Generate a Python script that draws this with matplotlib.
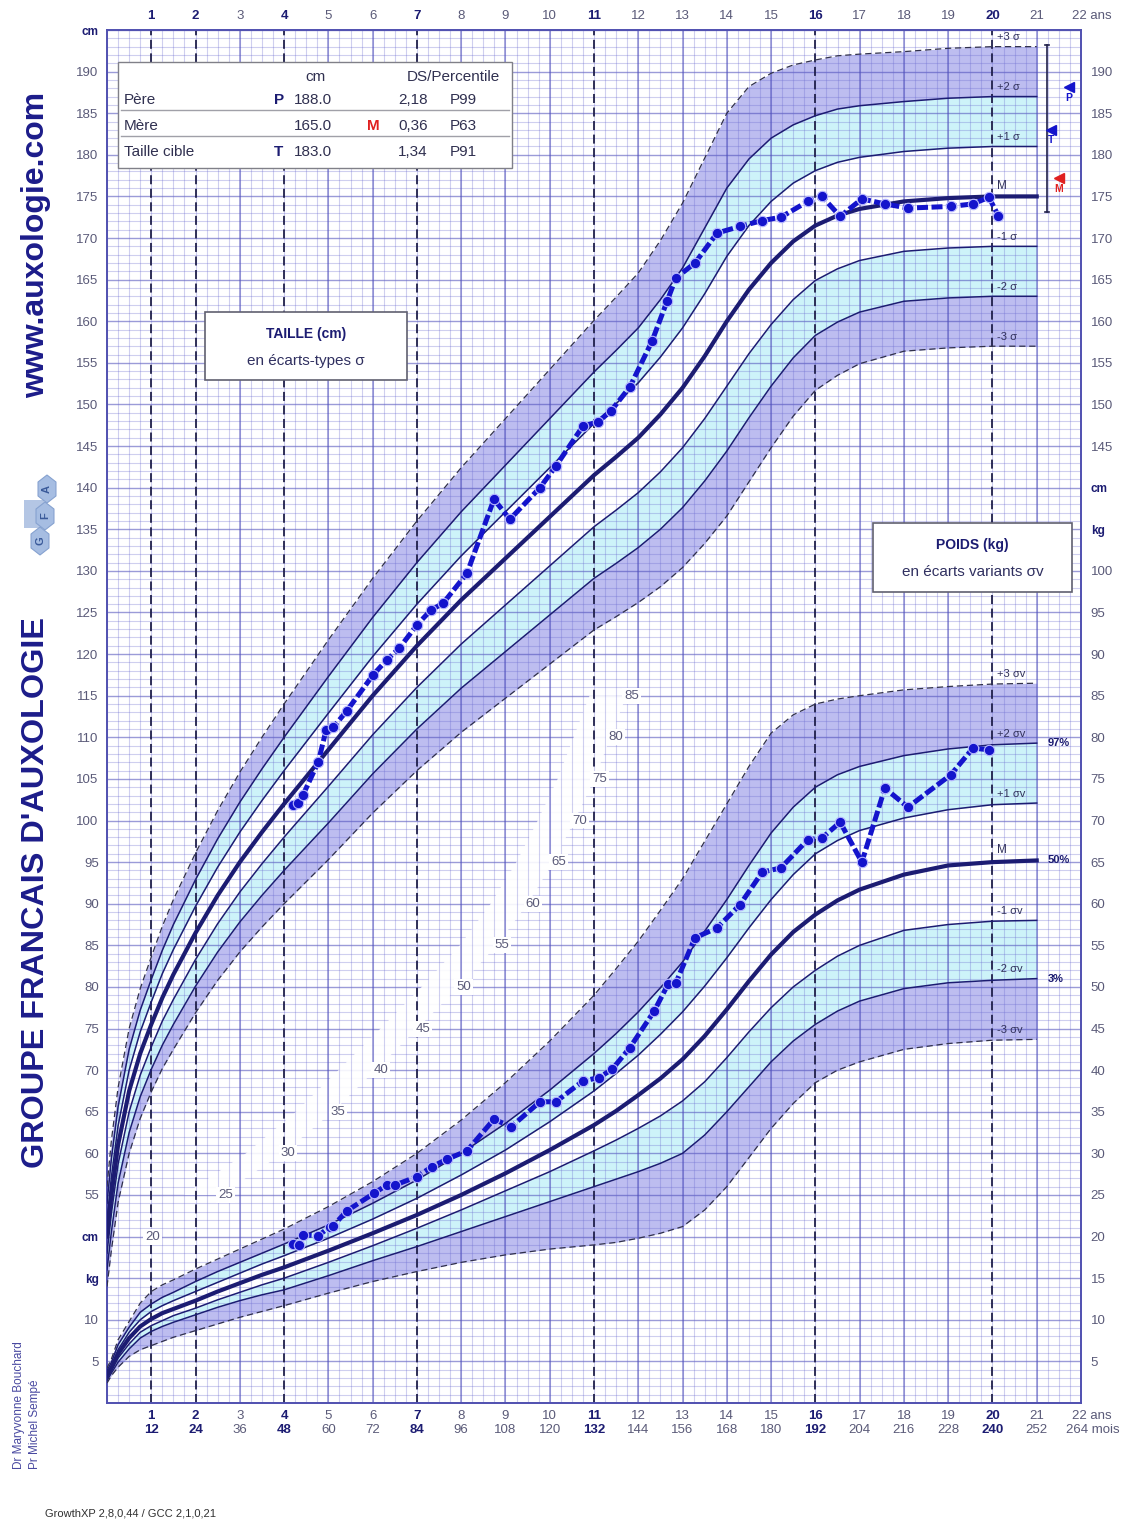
import numpy as np
import matplotlib.pyplot as plt
from matplotlib.patches import Rectangle, RegularPolygon, Polygon

plt.rcParams['font.family'] = ['Liberation Sans', 'DejaVu Sans']

W_PX, H_PX = 1126, 1521

# reference ages (years)
AGES = [0, 0.1, 0.25, 0.5, 0.75, 1, 1.25, 1.5, 2, 2.5, 3, 3.5, 4, 5, 6, 7, 8, 9, 10, 11, 11.5, 12,
        12.5, 13, 13.5, 14, 14.5, 15, 15.5, 16, 16.5, 17, 18, 19, 20, 21]

# height reference curves (cm), M and +/- 1, 2, 3 sigma
H_M = [50, 55, 61, 67.5, 72, 75.5, 78.7, 81.5, 86.5, 91, 95, 98.6, 102, 108.5, 115, 121, 126.5, 131.5, 136.5, 141.5, 143.7, 146,
       148.8, 152, 155.8, 160, 163.8, 167, 169.6, 171.5, 172.7, 173.5, 174.4, 174.8, 175, 175]
H_P1 = [52, 57.2, 63.3, 70, 74.6, 78.2, 81.6, 84.5, 89.7, 94.4, 98.6, 102.4, 106, 112.9, 119.7, 126, 131.8, 137.1, 142.4, 147.7, 150.1, 152.6,
        155.7, 159.2, 163.3, 167.8, 171.5, 174.4, 176.6, 178.1, 179.1, 179.7, 180.4, 180.8, 181, 181]
H_P2 = [54, 59.4, 65.6, 72.5, 77.2, 80.9, 84.4, 87.5, 92.9, 97.8, 102.2, 106.2, 110, 117.3, 124.4, 131, 137.1, 142.7, 148.3, 153.9, 156.5, 159.2,
        162.6, 166.4, 171.2, 176.0, 179.5, 182.0, 183.6, 184.7, 185.5, 185.9, 186.4, 186.8, 187, 187]
H_P3 = [56, 61.6, 67.9, 75, 79.8, 83.6, 87.3, 90.5, 96.1, 101.2, 105.8, 110, 114, 121.7, 129.1, 136, 142.4, 148.3, 154.2, 160.1, 162.9, 165.8,
        169.7, 174.2, 179.6, 185.0, 188.2, 189.8, 190.8, 191.4, 191.9, 192.1, 192.4, 192.8, 193, 193]
H_M1 = [48, 52.8, 58.7, 65, 69.4, 72.8, 75.9, 78.5, 83.3, 87.6, 91.4, 94.8, 98, 104.1, 110.3, 116, 121.2, 125.9, 130.6, 135.3, 137.3, 139.4,
        141.9, 144.8, 148.3, 152.2, 156.1, 159.6, 162.6, 164.9, 166.3, 167.3, 168.4, 168.8, 169, 169]
H_M2 = [46, 50.6, 56.4, 62.5, 66.8, 70.1, 73.0, 75.5, 80.1, 84.2, 87.8, 91.0, 94, 99.7, 105.6, 111, 115.9, 120.3, 124.7, 129.1, 130.9, 132.8,
        135.0, 137.6, 140.8, 144.4, 148.4, 152.2, 155.6, 158.3, 159.9, 161.1, 162.4, 162.8, 163, 163]
H_M3 = [44, 48.4, 54.1, 60, 64.2, 67.4, 70.2, 72.5, 76.9, 80.8, 84.2, 87.2, 90, 95.3, 100.9, 106, 110.6, 114.7, 118.8, 122.9, 124.5, 126.2,
        128.1, 130.4, 133.3, 136.6, 140.7, 144.8, 148.6, 151.7, 153.5, 154.9, 156.4, 156.8, 157, 157]

# weight reference curves (kg), M and +/- 1, 2, 3 sigma-v
W_M = [3.3, 4.2, 5.9, 7.8, 9.2, 10.1, 10.8, 11.3, 12.3, 13.4, 14.4, 15.4, 16.3, 18.3, 20.4, 22.6, 25.0, 27.6, 30.4, 33.4, 35.1, 37.0,
       39.0, 41.3, 44.1, 47.3, 50.7, 53.9, 56.6, 58.7, 60.4, 61.7, 63.5, 64.6, 65.0, 65.2]
W_P1 = [3.6, 4.5, 6.4, 8.5, 10.0, 11.0, 11.7, 12.3, 13.4, 14.5, 15.6, 16.7, 17.7, 19.8, 22.1, 24.6, 27.4, 30.4, 33.8, 37.5, 39.6, 41.8,
        44.3, 47.0, 50.1, 53.5, 57.1, 60.5, 63.5, 66.0, 67.6, 68.8, 70.3, 71.3, 71.9, 72.1]
W_P2 = [3.9, 4.9, 7.0, 9.1, 10.9, 11.9, 12.7, 13.3, 14.6, 15.8, 16.9, 18.0, 19.1, 21.4, 24.0, 26.8, 30.0, 33.6, 37.6, 42.0, 44.4, 47.0,
        49.9, 53.0, 56.7, 60.5, 64.6, 68.5, 71.6, 74.0, 75.5, 76.5, 77.8, 78.6, 79.1, 79.3]
W_P3 = [4.2, 5.3, 7.6, 9.8, 12.0, 13.4, 14.2, 14.8, 16.1, 17.3, 18.5, 19.7, 20.9, 23.6, 26.6, 30.0, 34.0, 38.5, 43.5, 49.0, 52.2, 55.5,
        59.2, 63.0, 67.5, 72.0, 76.5, 80.5, 82.7, 84.0, 84.6, 85.0, 85.7, 86.1, 86.4, 86.5]
W_M1 = [3.0, 3.9, 5.4, 7.1, 8.5, 9.3, 9.9, 10.5, 11.4, 12.4, 13.3, 14.2, 15.0, 16.9, 18.9, 21.0, 23.2, 25.5, 27.8, 30.3, 31.6, 33.0,
        34.5, 36.3, 38.6, 41.5, 44.6, 47.5, 50.0, 52.0, 53.7, 55.0, 56.8, 57.5, 57.9, 58.0]
W_M2 = [2.7, 3.6, 4.9, 6.5, 7.8, 8.6, 9.2, 9.7, 10.6, 11.5, 12.3, 13.0, 13.6, 15.3, 17.1, 18.8, 20.6, 22.4, 24.2, 26.0, 26.9, 27.8,
        28.8, 30.0, 32.2, 35.0, 38.0, 41.0, 43.5, 45.5, 47.1, 48.3, 49.8, 50.5, 50.8, 51.0]
W_M3 = [2.4, 3.3, 4.3, 5.6, 6.4, 6.9, 7.4, 7.9, 8.7, 9.5, 10.3, 11.0, 11.7, 13.2, 14.6, 15.8, 16.9, 17.8, 18.5, 19.0, 19.3, 19.8,
        20.4, 21.2, 23.2, 26.0, 29.5, 33.0, 36.0, 38.5, 40.0, 41.0, 42.5, 43.2, 43.6, 43.7]

# child measurements
CHILD_H_AGE = [4.20, 4.31, 4.43, 4.77, 4.95, 5.11, 5.42, 6.01, 6.32, 6.60, 7.00, 7.32, 7.59, 8.13, 8.74, 9.10,
               9.78, 10.14, 10.75, 11.09, 11.38, 11.81, 12.31, 12.65, 12.85, 13.28, 13.78, 14.30, 14.80, 15.22,
               15.83, 16.15, 16.56, 17.05, 17.57, 18.09, 19.06, 19.56, 19.92, 20.13]
CHILD_H = [101.9, 102.1, 103.1, 107.0, 110.9, 111.2, 113.2, 117.5, 119.3, 120.7, 123.5, 125.3, 126.1, 129.7, 138.6, 136.2,
           140.0, 142.6, 147.4, 147.9, 149.2, 152.1, 157.6, 162.4, 165.2, 167.0, 170.6, 171.4, 172.1, 172.5,
           174.4, 175.0, 172.6, 174.7, 174.1, 173.6, 173.8, 174.1, 174.9, 172.7]
CHILD_W_AGE = [4.20, 4.34, 4.43, 4.77, 5.04, 5.11, 5.42, 6.03, 6.32, 6.51, 7.00, 7.34, 7.68, 8.13, 8.74, 9.13,
               9.78, 10.14, 10.75, 11.11, 11.41, 11.81, 12.36, 12.67, 12.85, 13.28, 13.78, 14.30, 14.80, 15.22,
               15.83, 16.15, 16.56, 17.05, 17.57, 18.09, 19.06, 19.56, 19.92]
CHILD_W = [19.1, 19.0, 20.2, 20.1, 21.2, 21.3, 23.1, 25.2, 26.2, 26.2, 27.2, 28.4, 29.3, 30.3, 34.1, 33.2,
           36.2, 36.2, 38.7, 39.1, 40.1, 42.7, 47.1, 50.3, 50.5, 55.9, 57.1, 59.9, 63.8, 64.3,
           67.7, 67.9, 69.8, 65.0, 73.9, 71.6, 75.5, 78.7, 78.5]

# parents / target height (cm)
PARENT_NAMES = ['Père', 'Mère', 'Taille cible']
PARENT_CM = ['188.0', '165.0', '183.0']
PARENT_DS = ['2,18', '0,36', '1,34']
PARENT_PCT = ['P99', 'P63', 'P91']

# weight values written along the diagonal scale
DIAG_KG = [20, 25, 30, 35, 40, 45, 50, 55, 60, 65, 70, 75, 80, 85]
DIAG_AGE = [1.03, 2.68, 4.09, 5.22, 6.18, 7.13, 8.06, 8.92, 9.62, 10.2, 10.68, 11.13, 11.49, 11.85]

SPECIAL_YEARS = [1, 2, 4, 7, 11, 16, 20]
W_SHIFT = 30  # the kg scale sits 30 units below the cm scale

NAVY = '#1c1c72'
BLUE = '#1414cc'
LAVENDER = '#bdbdf0'
CYAN = '#cdf3f9'
GRAYTXT = '#5a5a78'


def fx(px):
    return px / W_PX


def fy(py):
    return 1 - py / H_PX


fig = plt.figure(figsize=(W_PX / 100, H_PX / 100), dpi=100)
ax = fig.add_axes([fx(107), fy(1403), (1081 - 107) / W_PX, (1403 - 30) / H_PX])
ax.set_xlim(0, 22)
ax.set_ylim(30, 195)

# grid: horizontal lines, then the white diagonal gap, then vertical lines
fine_v = np.arange(30, 196)
ax.hlines(fine_v[fine_v % 5 != 0], 0, 22, color='#6a6ad0', alpha=0.32, lw=0.8, zorder=2)
ax.hlines(fine_v[fine_v % 5 == 0], 0, 22, color='#4a4ab8', alpha=0.55, lw=1.0, zorder=2)

diag_v = np.array(DIAG_KG[1:]) + W_SHIFT
diag_a = np.array(DIAG_AGE[1:])
gap = list(zip(diag_a - 0.95, diag_v)) + list(zip(diag_a[::-1] - 0.12, diag_v[::-1]))
ax.add_patch(Polygon(gap, closed=True, fc='white', ec='none', alpha=0.9, zorder=2.2))

quarters = np.arange(0, 22.01, 0.25)
ax.vlines(quarters, 30, 195, color='#6a6ad0', alpha=0.32, lw=0.8, zorder=2.4)
years = [y for y in range(1, 22) if y not in SPECIAL_YEARS]
ax.vlines(years, 30, 195, color='#4a4ab8', alpha=0.6, lw=1.1, zorder=2.4)
ax.vlines(SPECIAL_YEARS, 30, 195, color='#20204a', lw=1.3, linestyles=(0, (5, 2.5)), zorder=2.5)

# bands
ax.fill_between(AGES, H_P2, H_P3, color=LAVENDER, lw=0, zorder=1)
ax.fill_between(AGES, H_P1, H_P2, color=CYAN, lw=0, zorder=1)
ax.fill_between(AGES, H_M2, H_M1, color=CYAN, lw=0, zorder=1)
ax.fill_between(AGES, H_M3, H_M2, color=LAVENDER, lw=0, zorder=1)
w = lambda s: np.array(s) + W_SHIFT
ax.fill_between(AGES, w(W_P2), w(W_P3), color=LAVENDER, lw=0, zorder=1)
ax.fill_between(AGES, w(W_P1), w(W_P2), color=CYAN, lw=0, zorder=1)
ax.fill_between(AGES, w(W_M2), w(W_M1), color=CYAN, lw=0, zorder=1)
ax.fill_between(AGES, w(W_M3), w(W_M2), color=LAVENDER, lw=0, zorder=1)

# reference curves
for curves, shift, sig in [((H_P3, H_P2, H_P1, H_M, H_M1, H_M2, H_M3), 0, 'σ'),
                           ((W_P3, W_P2, W_P1, W_M, W_M1, W_M2, W_M3), W_SHIFT, 'σv')]:
    names = ['+3 ' + sig, '+2 ' + sig, '+1 ' + sig, 'M', '-1 ' + sig, '-2 ' + sig, '-3 ' + sig]
    for c, name in zip(curves, names):
        y = np.array(c) + shift
        if name.startswith('+3') or name.startswith('-3'):
            ax.plot(AGES, y, color='#30304a', lw=0.9, dashes=(5, 3), zorder=4)
        elif name == 'M':
            ax.plot(AGES, y, color=NAVY, lw=3.0, zorder=4, solid_joinstyle='round')
        else:
            ax.plot(AGES, y, color=NAVY, lw=1.1, zorder=4)
        ax.text(20.1, y[-1] + 0.5, name, fontsize=8.5 if name == 'M' else 8, color='#30305a',
                ha='left', va='bottom', zorder=5)

for val, txt in [(W_P2[-1], '97%'), (W_M[-1], '50%'), (W_M2[-1], '3%')]:
    ax.text(21.25, val + W_SHIFT, txt, fontsize=8, weight='bold', color=NAVY, ha='left', va='center', zorder=5)

# diagonal kg scale labels
for a, kg in zip(DIAG_AGE, DIAG_KG):
    ax.text(a, kg + W_SHIFT, str(kg), fontsize=9.5, color=GRAYTXT, ha='center', va='center', zorder=3,
            bbox=dict(boxstyle='square,pad=0.15', fc='white', ec='none'))

# child data
for xs, ys in [(CHILD_H_AGE, CHILD_H), (CHILD_W_AGE, np.array(CHILD_W) + W_SHIFT)]:
    ax.plot(xs, ys, color=BLUE, lw=3.6, dashes=(2.2, 0.7), marker='o', ms=7.5,
            mfc=BLUE, mec='#b8b8ff', mew=0.8, zorder=6)

# parental markers at the right
ax.plot([21.23, 21.23], [173.1, 193.2], color='#20204a', lw=1.2, zorder=5)
ax.plot([21.18, 21.28], [193.2, 193.2], color='#20204a', lw=1.2, zorder=5)
ax.plot([21.18, 21.28], [173.1, 173.1], color='#20204a', lw=1.2, zorder=5)
ax.plot(21.33, 183, marker='<', ms=7, color=BLUE, zorder=6)
ax.text(21.33, 181.8, 'T', fontsize=7.5, weight='bold', color=BLUE, ha='center', va='center')
ax.plot(21.72, 188.1, marker='<', ms=7, color=BLUE, zorder=6)
ax.text(21.72, 186.8, 'P', fontsize=7.5, weight='bold', color=BLUE, ha='center', va='center')
ax.plot(21.5, 177.2, marker='<', ms=7, color='#e02020', zorder=6)
ax.text(21.5, 175.9, 'M', fontsize=7.5, weight='bold', color='#e02020', ha='center', va='center')

# axes frame and tick labels
for s in ax.spines.values():
    s.set_color('#5050b0')
    s.set_linewidth(1.4)
ax.set_xticks([])
left_ticks = [35, 40, 45, 50] + list(range(55, 191, 5)) + [195]
left_labels = ['5', '10', 'kg', 'cm'] + [str(v) for v in range(55, 191, 5)] + ['cm']
ax.set_yticks(left_ticks)
ax.set_yticklabels(left_labels)
ax.tick_params(axis='y', length=0, pad=6, labelsize=9.5, labelcolor=GRAYTXT)
ax2 = ax.twinx()
ax2.set_ylim(30, 195)
right_ticks = list(range(35, 131, 5)) + [135, 140] + list(range(145, 191, 5))
right_labels = [str(v - W_SHIFT) for v in range(35, 131, 5)] + ['kg', 'cm'] + [str(v) for v in range(145, 191, 5)]
ax2.set_yticks(right_ticks)
ax2.set_yticklabels(right_labels)
ax2.tick_params(axis='y', length=0, pad=7, labelsize=9.5, labelcolor=GRAYTXT)
for s in ax2.spines.values():
    s.set_visible(False)
for lab in ax.get_yticklabels() + ax2.get_yticklabels():
    if lab.get_text() in ('cm', 'kg'):
        lab.set_fontweight('bold')
        lab.set_color(NAVY)
        lab.set_fontsize(8.5)

tr = ax.get_xaxis_transform()
for yr in range(1, 22):
    bold = yr in SPECIAL_YEARS
    kw = dict(fontsize=9.5, ha='center', va='center', transform=tr,
              weight='bold' if bold else 'normal', color=NAVY if bold else GRAYTXT)
    ax.text(yr, 1.0102, str(yr), **kw)
    ax.text(yr, -0.0095, str(yr), **kw)
    ax.text(yr, -0.0197, str(yr * 12), **kw)
ax.text(21.8, 1.0102, '22 ans', fontsize=9.5, ha='left', va='center', transform=tr, color=GRAYTXT)
ax.text(21.8, -0.0095, '22 ans', fontsize=9.5, ha='left', va='center', transform=tr, color=GRAYTXT)
ax.text(21.65, -0.0197, '264 mois', fontsize=9.5, ha='left', va='center', transform=tr, color=GRAYTXT)

# parents table
fig.patches.append(Rectangle((fx(118), fy(168)), fx(512) - fx(118), fy(62) - fy(168),
                             transform=fig.transFigure, fc='white', ec='#808088', lw=1, zorder=8))
for py in (110, 136):
    fig.lines.append(plt.Line2D([fx(121), fx(509)], [fy(py), fy(py)], transform=fig.transFigure,
                                color='#a0a0a8', lw=1, zorder=9))
fig.text(fx(315), fy(77), 'cm', fontsize=11, color='#303050', ha='center', va='center', zorder=10)
fig.text(fx(453), fy(77), 'DS/Percentile', fontsize=11, color='#303050', ha='center', va='center', zorder=10)
for i, py in enumerate([100, 126, 152]):
    fig.text(fx(124), fy(py), PARENT_NAMES[i], fontsize=11, color='#303050', va='center', zorder=10)
    fig.text(fx(294), fy(py), PARENT_CM[i], fontsize=11, color='#303050', va='center', zorder=10)
    fig.text(fx(398), fy(py), PARENT_DS[i], fontsize=11, color='#303050', va='center', zorder=10)
    fig.text(fx(450), fy(py), PARENT_PCT[i], fontsize=11, color='#303050', va='center', zorder=10)
fig.text(fx(279), fy(100), 'P', fontsize=11, weight='bold', color=NAVY, ha='center', va='center', zorder=10)
fig.text(fx(373), fy(126), 'M', fontsize=11, weight='bold', color='#e02020', ha='center', va='center', zorder=10)
fig.text(fx(279), fy(152), 'T', fontsize=11, weight='bold', color=NAVY, ha='center', va='center', zorder=10)

# title boxes
for (x0, y0, x1, y1), t1, t2 in [((205, 312, 407, 380), 'TAILLE (cm)', 'en écarts-types σ'),
                                  ((873, 523, 1072, 592), 'POIDS (kg)', 'en écarts variants σv')]:
    fig.patches.append(Rectangle((fx(x0), fy(y1)), fx(x1) - fx(x0), fy(y0) - fy(y1),
                                 transform=fig.transFigure, fc='white', ec='#606070', lw=1.2, zorder=8))
    xc = (x0 + x1) / 2
    fig.text(fx(xc), fy(y0 + 22), t1, fontsize=10, weight='bold', color=NAVY, ha='center', va='center', zorder=10)
    fig.text(fx(xc), fy(y0 + 49), t2, fontsize=11, color='#303060', ha='center', va='center', zorder=10)

# side texts
fig.text(fx(36), fy(245), 'www.auxologie.com', rotation=90, fontsize=23, weight='bold', color='#1c1c8a',
         ha='center', va='center')
fig.text(fx(36), fy(893), "GROUPE FRANCAIS D'AUXOLOGIE", rotation=90, fontsize=23.3, weight='bold',
         color='#1c1c8a', ha='center', va='center')
fig.text(fx(19), fy(1469), 'Dr Maryvonne Bouchard', rotation=90, fontsize=8.5, color='#4848a0',
         ha='center', va='bottom')
fig.text(fx(35), fy(1469), 'Pr Michel Sempé', rotation=90, fontsize=8.5, color='#4848a0',
         ha='center', va='bottom')
fig.text(fx(45), fy(1513), 'GrowthXP 2,8,0,44 / GCC 2,1,0,21', fontsize=8, color='#303030', va='center')

# small logo
fig.patches.append(Rectangle((fx(24), fy(528)), fx(20), fy(500) - fy(528), transform=fig.transFigure,
                             fc='#b4c6e4', ec='none'))
for (px, py, letter) in [(47, 489, 'A'), (45, 516, 'F'), (40, 541, 'G')]:
    fig.patches.append(RegularPolygon((fx(px), fy(py)), 6, radius=0.0092, transform=fig.transFigure,
                                      fc='#a6bde2', ec='#86a2d0', lw=0.8))
    fig.text(fx(px), fy(py), letter, fontsize=8, weight='bold', color='#3a5a9a', ha='center', va='center',
             rotation=90)

fig.savefig('out.png', dpi=100, facecolor='white')
